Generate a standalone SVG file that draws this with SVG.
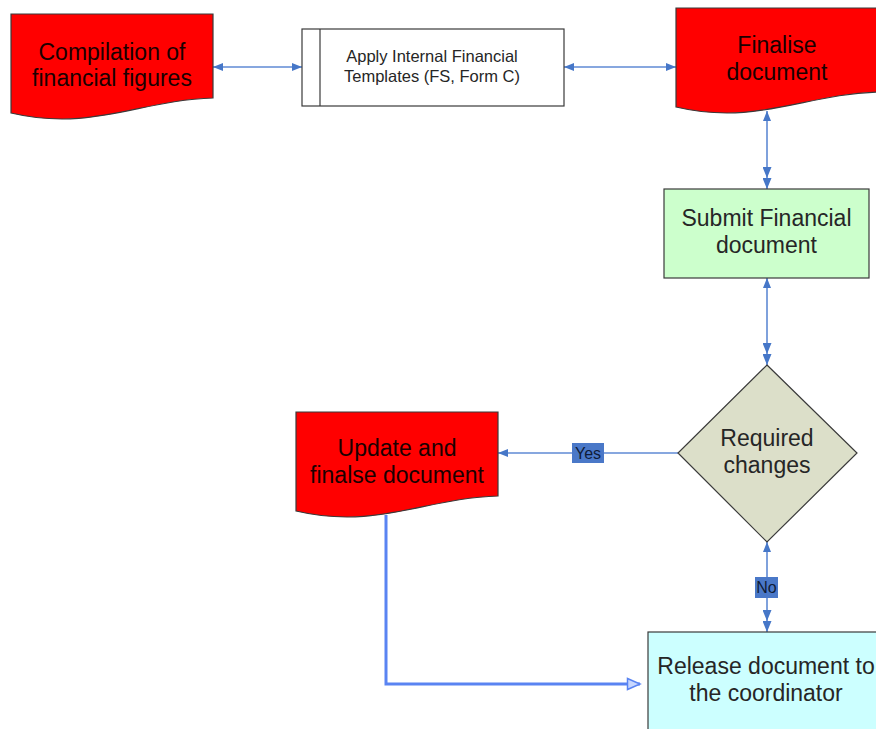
<svg xmlns="http://www.w3.org/2000/svg" xmlns:xlink="http://www.w3.org/1999/xlink" width="876" height="729" viewBox="0 0 876 729">
  <style>
    .node { stroke: #3a3a3a; stroke-width: 1.2; }
    .doc { fill: #ff0000; }
    .big { font-family: "Liberation Sans", Arial, sans-serif; font-size: 23px; text-anchor: middle; fill: #262626; }
    .onred { fill: #1a0000; }
    .small { font-family: "Liberation Sans", Arial, sans-serif; font-size: 16.5px; text-anchor: middle; fill: #262626; }
    .conn { fill: none; stroke: #5f8ad4; stroke-width: 1.6; }
    .flow { fill: none; stroke: #5a84f2; stroke-width: 3; }
    .tag { fill: #4a78c8; }
    .tagtext { font-family: "Liberation Sans", Arial, sans-serif; font-size: 16px; text-anchor: middle; fill: #0f1c38; }
  </style>
  <defs>
    <!-- document shape: flat top, wavy bottom -->
    <path id="docShape" d="M0,0 H202 V84 C130,86 80,118 0,99 Z"/>
    <marker id="head" viewBox="0 0 10 8" markerUnits="userSpaceOnUse" markerWidth="10" markerHeight="8" refX="10" refY="4" orient="auto-start-reverse">
      <path d="M0,0 L10,4 L0,8 Z" fill="#4677c8"/>
    </marker>
    <marker id="head2" viewBox="0 0 22 9" markerUnits="userSpaceOnUse" markerWidth="22" markerHeight="9" refX="22" refY="4.5" orient="auto">
      <path d="M0,0 L11,4.5 L0,9 Z M11,0 L22,4.5 L11,9 Z" fill="#4677c8"/>
    </marker>
    <marker id="openHead" viewBox="0 0 16 14" markerUnits="userSpaceOnUse" markerWidth="16" markerHeight="14" refX="14" refY="7" orient="auto">
      <path d="M1.5,1.5 L14,7 L1.5,12.5 Z" fill="#c8d7ff" stroke="#5a84f2" stroke-width="1.5"/>
    </marker>
  </defs>

  <!-- connectors -->
  <g id="connectors">
    <path class="conn" d="M213,67 H302" marker-start="url(#head)" marker-end="url(#head)"/>
    <path class="conn" d="M564,67 H676" marker-start="url(#head)" marker-end="url(#head)"/>
    <path class="conn" d="M767,111 V189" marker-start="url(#head)" marker-end="url(#head2)"/>
    <path class="conn" d="M767,278 V365" marker-start="url(#head)" marker-end="url(#head2)"/>
    <path class="conn" d="M678,453 H498" marker-end="url(#head)"/>
    <path class="conn" d="M767,542 V632" marker-start="url(#head)" marker-end="url(#head2)"/>
    <path class="flow" d="M386,515 V684 H640" marker-end="url(#openHead)"/>
    <g id="label-yes">
      <rect class="tag" x="572" y="443" width="32" height="20"/>
      <text class="tagtext" x="588" y="459">Yes</text>
    </g>
    <g id="label-no">
      <rect class="tag" x="755" y="577" width="23" height="21"/>
      <text class="tagtext" x="766.5" y="593">No</text>
    </g>
  </g>

  <g id="compilation">
    <use xlink:href="#docShape" class="node doc" transform="translate(11,14)"/>
    <text class="big onred" x="112" y="60">Compilation of</text>
    <text class="big onred" x="112" y="86">financial figures</text>
  </g>

  <g id="apply-templates">
    <rect class="node" x="302" y="29" width="262" height="77" fill="#ffffff"/>
    <line class="node" x1="320" y1="29" x2="320" y2="106"/>
    <text class="small" x="432" y="62">Apply Internal Financial</text>
    <text class="small" x="432" y="82">Templates (FS, Form C)</text>
  </g>

  <g id="finalise">
    <use xlink:href="#docShape" class="node doc" transform="translate(676,8)"/>
    <text class="big onred" x="777" y="53">Finalise</text>
    <text class="big onred" x="777" y="80">document</text>
  </g>

  <g id="submit">
    <rect class="node" x="664" y="189" width="205" height="89" fill="#ccffcc"/>
    <text class="big" x="766.5" y="226">Submit Financial</text>
    <text class="big" x="766.5" y="253">document</text>
  </g>

  <g id="required-changes">
    <polygon class="node" points="767,365 857,453 767,542 678,453" fill="#dcdfc9"/>
    <text class="big" x="767" y="446">Required</text>
    <text class="big" x="767" y="473">changes</text>
  </g>

  <g id="update-finalise">
    <use xlink:href="#docShape" class="node doc" transform="translate(296,412)"/>
    <text class="big onred" x="397" y="456">Update and</text>
    <text class="big onred" x="397" y="483">finalse document</text>
  </g>

  <g id="release">
    <rect class="node" x="648" y="632" width="240" height="110" fill="#ccffff"/>
    <text class="big" x="766" y="674">Release document to</text>
    <text class="big" x="766" y="701">the coordinator</text>
  </g>
</svg>
